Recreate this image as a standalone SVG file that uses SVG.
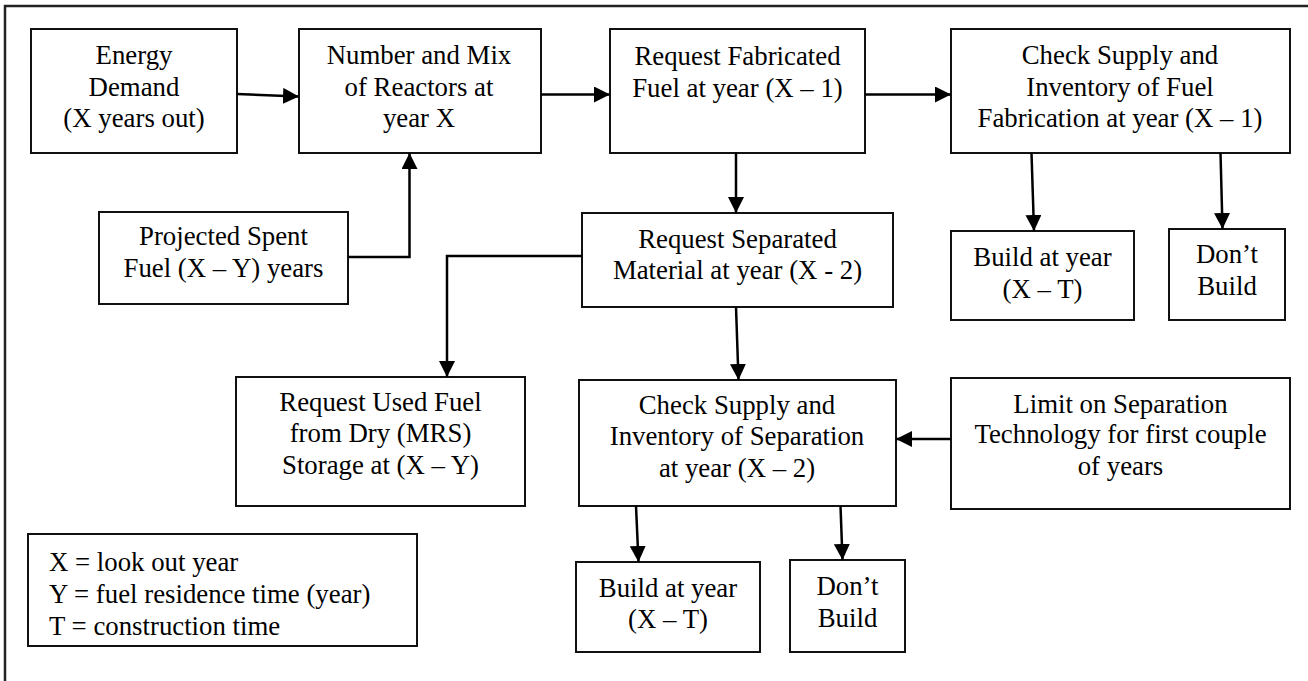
<svg xmlns="http://www.w3.org/2000/svg" width="1308" height="681" viewBox="0 0 1308 681">
  <defs>
    <marker id="arrow" viewBox="0 0 16 16" refX="16" refY="8" markerWidth="16" markerHeight="16" markerUnits="userSpaceOnUse" orient="auto">
      <path d="M0,0 L16,8 L0,16 z" fill="#000"/>
    </marker>
    <style>
      .box { fill: #fff; stroke: #111; stroke-width: 2; }
      .frame { fill: none; stroke: #222; stroke-width: 2.5; }
      .lbl { font-family: "Liberation Serif", "Times New Roman", serif; font-size: 26.8px; fill: #000; text-anchor: middle; }
      .key { font-family: "Liberation Serif", "Times New Roman", serif; font-size: 26.8px; fill: #000; }
      .conn { fill: none; stroke: #000; stroke-width: 2.5; }
    </style>
  </defs>

  <rect width="1308" height="681" fill="#fff"/>
  <!-- outer frame (only its top and left edges fall inside the page) -->
  <rect class="frame" x="5" y="6" width="1400" height="800"/>

  <g id="energy-demand">
    <rect class="box" x="31" y="29" width="206" height="124"/>
    <text class="lbl" x="134" y="64">Energy</text>
    <text class="lbl" x="134" y="96">Demand</text>
    <text class="lbl" x="134" y="127">(X years out)</text>
  </g>

  <g id="reactor-mix">
    <rect class="box" x="299" y="29" width="242" height="124"/>
    <text class="lbl" x="419" y="64">Number and Mix</text>
    <text class="lbl" x="419" y="96">of Reactors at</text>
    <text class="lbl" x="419" y="127">year X</text>
  </g>

  <g id="request-fabricated">
    <rect class="box" x="610" y="29" width="255" height="124"/>
    <text class="lbl" x="737.5" y="65">Request Fabricated</text>
    <text class="lbl" x="737.5" y="97">Fuel at year (X – 1)</text>
  </g>

  <g id="check-fabrication">
    <rect class="box" x="951" y="29" width="339" height="124"/>
    <text class="lbl" x="1120" y="64">Check Supply and</text>
    <text class="lbl" x="1120" y="96">Inventory of Fuel</text>
    <text class="lbl" x="1120" y="127">Fabrication at year (X – 1)</text>
  </g>

  <g id="projected-spent">
    <rect class="box" x="99" y="212" width="249" height="92"/>
    <text class="lbl" x="223.5" y="245">Projected Spent</text>
    <text class="lbl" x="223.5" y="277">Fuel (X – Y) years</text>
  </g>

  <g id="request-separated">
    <rect class="box" x="582" y="213" width="311" height="94"/>
    <text class="lbl" x="737.5" y="248">Request Separated</text>
    <text class="lbl" x="737.5" y="279">Material at year (X - 2)</text>
  </g>

  <g id="build-fab">
    <rect class="box" x="951" y="231" width="183" height="89"/>
    <text class="lbl" x="1042.5" y="266">Build at year</text>
    <text class="lbl" x="1042.5" y="298">(X – T)</text>
  </g>

  <g id="dont-build-fab">
    <rect class="box" x="1169" y="229" width="116" height="91"/>
    <text class="lbl" x="1227" y="263">Don’t</text>
    <text class="lbl" x="1227" y="295">Build</text>
  </g>

  <g id="request-used-fuel">
    <rect class="box" x="236" y="377" width="289" height="129"/>
    <text class="lbl" x="380.5" y="411">Request Used Fuel</text>
    <text class="lbl" x="380.5" y="442">from Dry (MRS)</text>
    <text class="lbl" x="380.5" y="474">Storage at (X – Y)</text>
  </g>

  <g id="check-separation">
    <rect class="box" x="579" y="380" width="317" height="126"/>
    <text class="lbl" x="737" y="414">Check Supply and</text>
    <text class="lbl" x="737" y="445">Inventory of Separation</text>
    <text class="lbl" x="737" y="477">at year (X – 2)</text>
  </g>

  <g id="separation-limit">
    <rect class="box" x="951" y="378" width="339" height="131"/>
    <text class="lbl" x="1120.5" y="413">Limit on Separation</text>
    <text class="lbl" x="1120.5" y="443">Technology for first couple</text>
    <text class="lbl" x="1120.5" y="475">of years</text>
  </g>

  <g id="build-sep">
    <rect class="box" x="576" y="562" width="184" height="90"/>
    <text class="lbl" x="668" y="597">Build at year</text>
    <text class="lbl" x="668" y="628">(X – T)</text>
  </g>

  <g id="dont-build-sep">
    <rect class="box" x="790" y="560" width="115" height="92"/>
    <text class="lbl" x="847.5" y="595">Don’t</text>
    <text class="lbl" x="847.5" y="627">Build</text>
  </g>

  <g id="legend">
    <rect class="box" x="28" y="534" width="389" height="112"/>
    <text class="key" x="49" y="571">X = look out year</text>
    <text class="key" x="49" y="603">Y = fuel residence time (year)</text>
    <text class="key" x="49" y="635">T = construction time</text>
  </g>

  <g id="connectors">
    <path class="conn" d="M237,94 L299,96.5" marker-end="url(#arrow)"/>
    <path class="conn" d="M541,94.5 L610,94.5" marker-end="url(#arrow)"/>
    <path class="conn" d="M865,94.5 L951,94.5" marker-end="url(#arrow)"/>
    <path class="conn" d="M348,257 L409.5,257 L409.5,153" marker-end="url(#arrow)"/>
    <path class="conn" d="M736,153 L736,213" marker-end="url(#arrow)"/>
    <path class="conn" d="M1031.5,153 L1034,231" marker-end="url(#arrow)"/>
    <path class="conn" d="M1220.5,153 L1222.5,229" marker-end="url(#arrow)"/>
    <path class="conn" d="M582,256 L447,256 L447,377" marker-end="url(#arrow)"/>
    <path class="conn" d="M736,307 L738.5,380" marker-end="url(#arrow)"/>
    <path class="conn" d="M951,439 L896,439" marker-end="url(#arrow)"/>
    <path class="conn" d="M636,506 L638.5,562" marker-end="url(#arrow)"/>
    <path class="conn" d="M840.5,506 L842.5,560" marker-end="url(#arrow)"/>
  </g>
</svg>
